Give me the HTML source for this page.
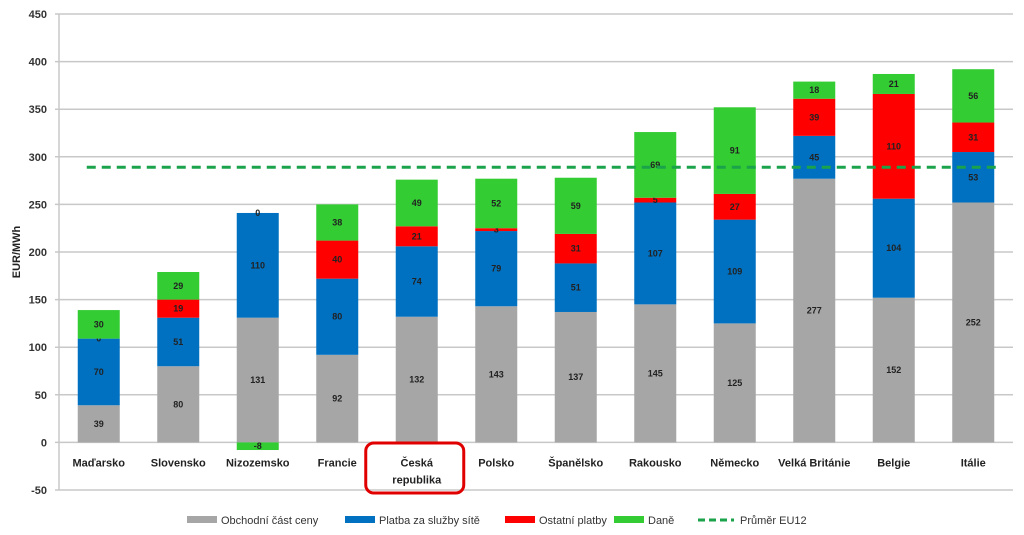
<!DOCTYPE html>
<html><head><meta charset="utf-8"><style>
body{margin:0;background:#fff;}
svg{display:block;font-family:"Liberation Sans",sans-serif;}
</style></head><body>
<svg id="chart" width="1024" height="535"></svg>
<script>
const categories=["Maďarsko","Slovensko","Nizozemsko","Francie","Česká republika","Polsko","Španělsko","Rakousko","Německo","Velká Británie","Belgie","Itálie"];
const obchodni=[39,80,131,92,132,143,137,145,125,277,152,252];
const sit=[70,51,110,80,74,79,51,107,109,45,104,53];
const ostatni=[0,19,0,40,21,3,31,5,27,39,110,31];
const dane=[30,29,-8,38,49,52,59,69,91,18,21,56];
const prumer=289;
const yTicks=[-50,0,50,100,150,200,250,300,350,400,450];
const seriesNames=["Obchodní část ceny","Platba za služby sítě","Ostatní platby","Daně"];
const colors=["#a6a6a6","#0070c0","#ff0000","#33cc33"];
const NS="http://www.w3.org/2000/svg";
const svg=document.getElementById('chart');
const x0=59,x1=1013,yTop=14,yBot=490,vMin=-50,vMax=450;
const y=v=>yBot-(v-vMin)/(vMax-vMin)*(yBot-yTop);
const band=(x1-x0)/categories.length;
const xc=i=>x0+band*(i+0.5);
const bw=42;
function el(t,a,p){const e=document.createElementNS(NS,t);for(const k in a)e.setAttribute(k,a[k]);(p||svg).appendChild(e);return e;}
yTicks.forEach(v=>{
 const g=el('line',{x1:x0-4,x2:x1,y1:y(v),y2:y(v),stroke:'#c8c8c8','stroke-width':1.5});
 
 
 const t=el('text',{x:x0-12,y:y(v)+4,'text-anchor':'end','font-size':11,'font-weight':'bold',fill:'#333'});
 t.textContent=v;
 
 
});
const ax=el('line',{x1:x0,x2:x0,y1:yTop,y2:yBot,stroke:'#c8c8c8','stroke-width':1.5});


const yt=el('text',{x:20,y:y(200),'text-anchor':'middle','font-size':11,'font-weight':'bold',fill:'#222',transform:`rotate(-90 20 ${y(200)})`});
yt.textContent='EUR/MWh';


const series=[obchodni,sit,ostatni,dane];
categories.forEach((c,i)=>{
 let pos=0;
 series.forEach((s,k)=>{
  const v=s[i];let a,b;
  if(v>=0){a=pos;b=pos+v;pos=b;}else{a=v;b=0;}
  const r=el('rect',{x:xc(i)-bw/2,y:y(b),width:bw,height:Math.max(0,y(a)-y(b)),fill:colors[k]});
  
  
  const t=el('text',{x:xc(i),y:(y(a)+y(b))/2+3,'text-anchor':'middle','font-size':9,'font-weight':'bold',fill:'#222'});
  t.textContent=v;
  
  
 });
 const lines=c==="Česká republika"?["Česká","republika"]:[c];
 lines.forEach((L,j)=>{
  const t=el('text',{x:xc(i),y:y(0)+24+j*17,'text-anchor':'middle','font-size':11,'font-weight':'bold',fill:'#222'});
  t.textContent=L;
  
  
 });
});
const ln=el('line',{x1:xc(0)-12,x2:x1-12,y1:y(prumer),y2:y(prumer),stroke:'#1aa34a','stroke-width':3,'stroke-dasharray':'9,6'});


const hb=el('rect',{x:xc(4)-51,y:443,width:98,height:50,rx:8,fill:'none',stroke:'#e00000','stroke-width':3});


const leg=[[187,0],[345,1],[505,2],[614,3]];
leg.forEach(([lx,k])=>{
 const r=el('rect',{x:lx,y:516,width:30,height:7,fill:colors[k]});
 
 
 const t=el('text',{x:lx+34,y:524,'font-size':11,fill:'#333'});
 t.textContent=seriesNames[k];
 
 
});
const ll=el('line',{x1:698,x2:734,y1:520,y2:520,stroke:'#1aa34a','stroke-width':3,'stroke-dasharray':'7,4'});


const lt=el('text',{x:740,y:524,'font-size':11,fill:'#333'});
lt.textContent='Průměr EU12';


</script>
</body></html>
